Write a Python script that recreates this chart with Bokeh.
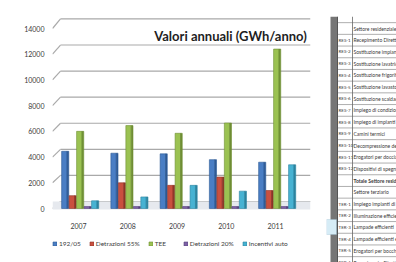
import numpy as np
from bokeh.plotting import figure
from bokeh.layouts import row
from bokeh.models import (Range1d, LinearAxis, FixedTicker, Label, BoxAnnotation,
                          Span, ColumnDataSource, Legend, LegendItem)
from bokeh.core.properties import value
from bokeh.embed import file_html
from bokeh.resources import INLINE

# ---------------- data ----------------
years = ["2007", "2008", "2009", "2010", "2011"]
series_names = ["192/05", "Detrazioni 55%", "TEE", "Detrazioni 20%", "Incentivi auto"]
v_192_05 = [4450, 4300, 4250, 3800, 3600]
v_detr55 = [1000, 2000, 1800, 2450, 1400]
v_tee = [6000, 6450, 5850, 6650, 12400]
v_detr20 = [150, 150, 150, 150, 150]
v_incentivi = [600, 900, 1800, 1350, 3400]
y_tick_values = [0, 2000, 4000, 6000, 8000, 10000, 12000, 14000]
chart_title = "Valori annuali (GWh/anno)"

table_codes = ["", "RES-1", "RES-2", "RES-3", "RES-4", "RES-5", "RES-6", "RES-7",
               "RES-8", "RES-9", "RES-10", "RES-11", "RES-12", "", "",
               "TER-1", "TER-2", "TER-3", "TER-4", "TER-5", "TER-6"]
table_desc = ["Settore residenziale",
              "Recepimento Direttiva 2002/91/CE",
              "Sostituzione impianti di riscaldamento",
              "Sostituzione lavatrici",
              "Sostituzione frigoriferi",
              "Sostituzione lavastoviglie",
              "Sostituzione scaldacqua elettrici",
              "Impiego di condizionatori efficienti",
              "Impiego di impianti solari termici",
              "Camini termici",
              "Decompressione del gas naturale",
              "Erogatori per doccia",
              "Dispositivi di spegnimento",
              "Totale Settore residenziale",
              "Settore terziario",
              "Impiego impianti di climatizzazione",
              "Illuminazione efficiente",
              "Lampade efficienti",
              "Lampade efficienti e regolazione",
              "Erogatori per bocchette",
              "Recepimento Direttiva 2002/91/CE"]

colors = ["#4A7EC4", "#C9503F", "#9BC252", "#7E62A6", "#47B2D2"]
sides = ["#2E5A96", "#8E3427", "#6F8F34", "#563F7A", "#2C84A0"]

# ---------------- geometry (page px) ----------------
W, H = 326, 262
frame_l, frame_r = 52, 310
frame_t, frame_b = 16, 262
cat0_px, cat_step = 78, 49.25   # category centre px / spacing
main0, main_pk = 201.0, 13.04   # back wall: page y of 0, px per 1000
wall0, wall_pk = 208.0, 12.857  # front / label scale
year_label_py = 225
legend_center_py = 242

def xi(px):
    return (px - cat0_px) / cat_step

def main_v(py):
    return (main0 - py) / main_pk * 1000

def wall_v(py):
    return (wall0 - py) / wall_pk * 1000

p = figure(frame_width=frame_r - frame_l, frame_height=frame_b - frame_t,
           output_backend="svg", toolbar_location=None,
           x_range=Range1d(xi(frame_l), xi(frame_r)),
           y_range=Range1d(main_v(frame_b), main_v(frame_t)),
           x_axis_location=None, y_axis_location=None,
           min_border_left=frame_l, min_border_right=W - frame_r,
           min_border_top=frame_t, min_border_bottom=H - frame_b,
           background_fill_color="white", border_fill_color="white")
p.outline_line_color = None
p.grid.visible = False
p.extra_y_ranges = {"wall": Range1d(wall_v(frame_b), wall_v(frame_t))}

# y axis (label scale)
yax = LinearAxis(y_range_name="wall", ticker=FixedTicker(ticks=y_tick_values))
yax.axis_line_color = None
yax.major_tick_line_color = None
yax.minor_tick_line_color = None
yax.major_label_standoff = 2
yax.major_label_text_font = "Lato"
yax.major_label_text_font_size = "7px"
yax.major_label_text_color = "#3c3c3c"
p.add_layout(yax, "left")

idx = np.arange(len(years))

# category labels
p.text(x=idx.tolist(), y=[main_v(year_label_py)] * len(years), text=years,
       text_font=value("Lato"), text_font_size="7px", text_color="#3c3c3c",
       text_align="center", text_baseline="middle")

# floor
p.add_layout(BoxAnnotation(top=0, bottom=main_v(wall0 + 1), fill_color="#e6e9ee",
                           fill_alpha=1, line_color=None, level="underlay"))

# back-wall gridlines + left-wall stubs
g_x0 = [xi(frame_l + 8)] * len(y_tick_values)
g_x1 = [xi(frame_r)] * len(y_tick_values)
p.segment(x0=g_x0, y0=y_tick_values, x1=g_x1, y1=y_tick_values,
          line_color="#a9a9a9", line_width=1.2, level="underlay")
stub_y0 = [main_v(wall0 - v / 1000 * wall_pk) for v in y_tick_values]
p.segment(x0=[xi(frame_l)] * len(y_tick_values), y0=stub_y0,
          x1=g_x0, y1=y_tick_values, line_color="#a9a9a9", line_width=1.2,
          level="underlay")

# bars (front scale)
series = [v_192_05, v_detr55, v_tee, v_detr20, v_incentivi]
offsets = [-0.27, -0.118, 0.034, 0.186, 0.338]
front_w, side_w = 0.11, 0.035
items = []
for name, vals, off, c, sc in zip(series_names, series, offsets, colors, sides):
    src = ColumnDataSource(dict(x=(idx + off - side_w / 2).tolist(),
                                xs=(idx + off + front_w / 2).tolist(),
                                top=vals))
    r = p.vbar(x="x", top="top", bottom=0, width=front_w, source=src,
               fill_color=c, line_color=sc, line_width=0.6, y_range_name="wall")
    p.vbar(x="xs", top="top", bottom=0, width=side_w, source=src,
           fill_color=sc, line_color=sc, line_width=0.6, y_range_name="wall")
    items.append(LegendItem(label=name, renderers=[r]))

leg_h = 9
lg = Legend(items=items, orientation="horizontal",
            location=(0, H - legend_center_py - leg_h / 2),
            label_text_font="Lato", label_text_font_size="6.5px",
            label_text_color="#3c3c3c", glyph_width=5, glyph_height=5,
            label_standoff=2, label_height=7, spacing=8, padding=1, margin=0,
            border_line_color=None, background_fill_alpha=0)
p.add_layout(lg)

p.add_layout(Label(x=xi(230), y=main_v(35.5), text=chart_title,
                   text_font="Lato", text_font_style="bold", text_font_size="13px",
                   text_color="#1e1e1e", text_align="center",
                   text_baseline="middle"))

# ---------------- table (right side) ----------------
TW = 396 - W
row0_px, row_pitch = 12.0, 11.7
n = len(table_desc)

def ty(py):
    return -((py - row0_px) / row_pitch)

t = figure(frame_width=TW, frame_height=H, output_backend="svg", toolbar_location=None,
           x_range=Range1d(0, TW), y_range=Range1d(ty(H), ty(0)),
           x_axis_location=None, y_axis_location=None,
           min_border=0, background_fill_color="#ffffff",
           border_fill_color="white")
t.outline_line_color = None
t.grid.visible = False
rows_y = [-i for i in range(n)]
sep = [-i - 0.5 for i in range(-1, n)]
t.segment(x0=[11] * len(sep), y0=sep, x1=[TW] * len(sep), y1=sep,
          line_color="#9a9a9a", line_width=0.8)
t.add_layout(BoxAnnotation(left=4, right=11, fill_color="#767676", fill_alpha=1,
                           line_color=None))
t.add_layout(Span(location=11, dimension="height", line_color="#555555", line_width=1))
t.add_layout(Span(location=26, dimension="height", line_color="#666666", line_width=0.8))
t.add_layout(BoxAnnotation(left=0, right=10, top=ty(203), bottom=ty(218),
                           fill_color="#d6ecf6", fill_alpha=1,
                           line_color="#8fb6cc", line_width=1))
bold = [i for i, d in enumerate(table_desc) if d.startswith("Totale")]
styles_ = ["bold" if i in bold else "normal" for i in range(n)]
tsrc = ColumnDataSource(dict(y=rows_y, code=table_codes, desc=table_desc, st=styles_))
t.text(x=12, y="y", text="code", source=tsrc, text_font=value("Lato"),
       text_font_size="4.5px", text_color="#3a3a3a", text_baseline="middle")
t.text(x=27, y="y", text="desc", source=tsrc, text_font=value("Lato"),
       text_font_size="5px", text_font_style="st", text_color="#3a3a3a",
       text_baseline="middle")

layout = row(p, t, spacing=0)
open("out.html", "w").write(file_html(layout, INLINE))
